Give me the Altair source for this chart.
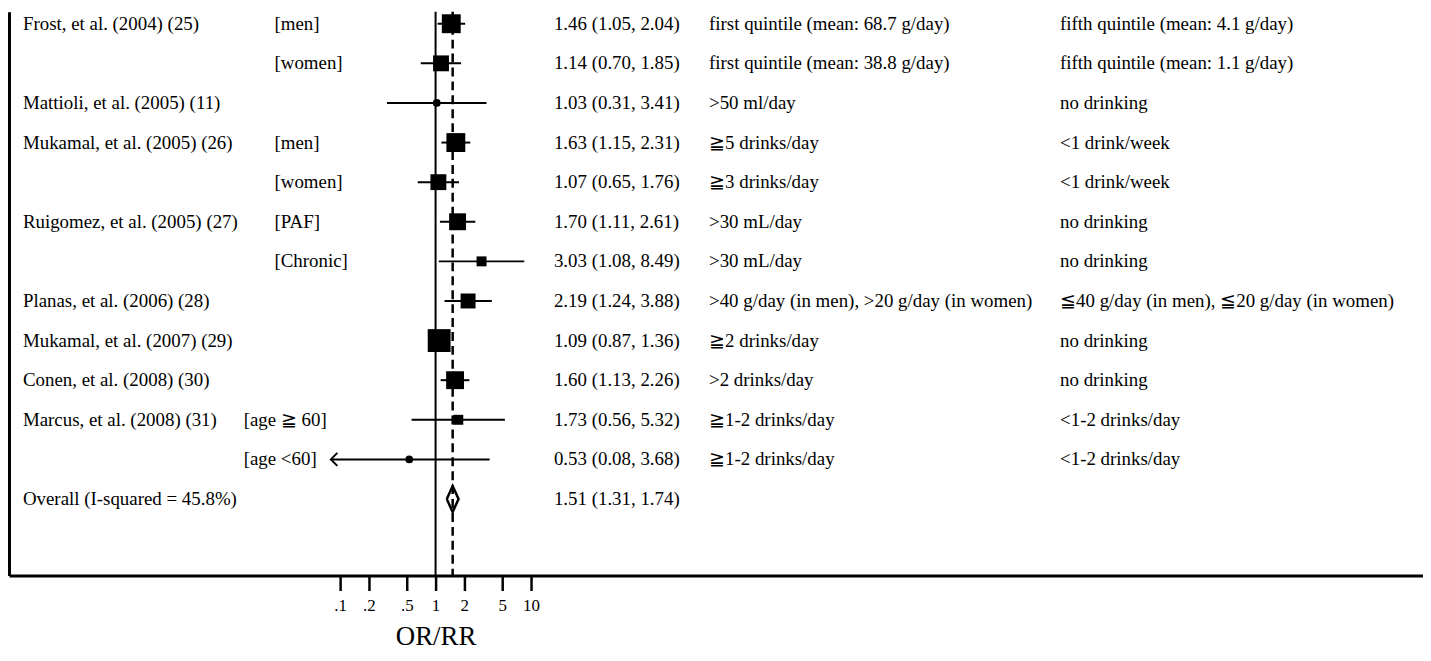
import altair as alt
import pandas as pd
import numpy as np

# ---------------- data ----------------
studies = [
    "Frost, et al. (2004) (25)", "", "Mattioli, et al. (2005) (11)",
    "Mukamal, et al. (2005) (26)", "", "Ruigomez, et al. (2005) (27)", "",
    "Planas, et al. (2006)  (28)", "Mukamal, et al. (2007)  (29)",
    "Conen, et al. (2008)  (30)", "Marcus, et al. (2008) (31)", "",
]
subgroups = ["[men]", "[women]", "", "[men]", "[women]", "[PAF]", "[Chronic]",
             "", "", "", "[age ≧ 60]", "[age <60]"]
estimates = [1.46, 1.14, 1.03, 1.63, 1.07, 1.70, 3.03, 2.19, 1.09, 1.60, 1.73, 0.53]
lower = [1.05, 0.70, 0.31, 1.15, 0.65, 1.11, 1.08, 1.24, 0.87, 1.13, 0.56, 0.08]
upper = [2.04, 1.85, 3.41, 2.31, 1.76, 2.61, 8.49, 3.88, 1.36, 2.26, 5.32, 3.68]
weights = [12.6, 8.9, 1.3, 12.6, 8.9, 10.1, 3.5, 7.9, 18.5, 11.3, 3.5, 0.9]
exposures = [
    "first quintile (mean: 68.7 g/day)", "first quintile (mean: 38.8 g/day)",
    ">50 ml/day", "≧5 drinks/day", "≧3 drinks/day", ">30 mL/day", ">30 mL/day",
    ">40 g/day (in men), >20 g/day (in women)", "≧2 drinks/day", ">2 drinks/day",
    "≧1-2 drinks/day", "≧1-2 drinks/day",
]
references = [
    "fifth quintile (mean: 4.1 g/day)", "fifth quintile (mean: 1.1 g/day)",
    "no drinking", "<1 drink/week", "<1 drink/week", "no drinking", "no drinking",
    "≦40 g/day (in men), ≦20 g/day (in women)", "no drinking", "no drinking",
    "<1-2 drinks/day", "<1-2 drinks/day",
]
overall_label = "Overall  (I-squared = 45.8%)"
overall_est, overall_lo, overall_hi = 1.51, 1.31, 1.74
tick_values = [0.1, 0.2, 0.5, 1, 2, 5, 10]
axis_title = "OR/RR"

# ---------------- layout ----------------
FONT = "Liberation Serif"
FS = 19
PLOT_W = 1422
PLOT_H = 567
ROW_PX = 39.83
FIRST_ROW_PX = 12
X_ONE_PX = 429
PX_PER_DECADE = 96

n = len(estimates)
overall_row = n

xs = alt.Scale(type="log", domain=[10 ** (-X_ONE_PX / PX_PER_DECADE),
                                   10 ** ((PLOT_W - X_ONE_PX) / PX_PER_DECADE)],
               nice=False, zero=False)
d0 = -FIRST_ROW_PX / ROW_PX
ys = alt.Scale(domain=[d0, d0 + PLOT_H / ROW_PX], reverse=True, nice=False, zero=False)

xa = alt.Axis(values=tick_values,
              labelExpr="datum.value < 1 ? '.' + format(datum.value * 10, 'd') : format(datum.value, 'd')",
              grid=False, domain=True, domainColor="black", domainWidth=3,
              ticks=True, tickColor="black", tickWidth=2.5, tickSize=15,
              labelFont=FONT, labelFontSize=17, labelColor="black", labelPadding=7,
              labelFlush=False, labelOverlap=False, labelBound=False,
              title=axis_title, titleFont=FONT, titleFontSize=27, titleFontWeight="normal",
              titleColor="black", titleX=X_ONE_PX, titleY=61, titleAlign="center",
              titleBaseline="middle")
ya = alt.Axis(domain=True, domainColor="black", domainWidth=3, ticks=False,
              labels=False, grid=False, title=None)

studies_df = pd.DataFrame({
    "row": np.arange(n), "est": estimates, "lo": lower, "hi": upper, "w": weights,
})
text_df = pd.DataFrame({
    "row": np.arange(n + 1),
    "study": studies + [overall_label],
    "sub": subgroups + [""],
    "esttext": [f"{e:.2f} ({l:.2f}, {h:.2f})" for e, l, h in zip(estimates, lower, upper)]
               + [f"{overall_est:.2f} ({overall_lo:.2f}, {overall_hi:.2f})"],
    "expo": exposures + [""],
    "ref": references + [""],
})
text_df["agesub"] = text_df["sub"].str.startswith("[age")

X = lambda f: alt.X(f, scale=xs, axis=xa, title=axis_title)
Y = lambda f: alt.Y(f, scale=ys, axis=ya)

one_line = alt.Chart(pd.DataFrame({"x": [1.0]})).mark_rule(
    color="black", strokeWidth=2).encode(x=X("x:Q"))
overall_line = alt.Chart(pd.DataFrame({"x": [overall_est]})).mark_rule(
    color="black", strokeWidth=2.5, strokeDash=[9, 5]).encode(x=X("x:Q"))

ci = alt.Chart(studies_df).mark_rule(color="black", strokeWidth=2).encode(
    x=X("lo:Q"), x2="hi:Q", y=Y("row:Q"))
boxes = alt.Chart(studies_df).mark_point(
    shape="square", filled=True, color="black", opacity=1).encode(
    x=X("est:Q"), y=Y("row:Q"),
    size=alt.Size("w:Q", scale=alt.Scale(type="linear", domain=[0, 100], range=[0, 2862]),
                  legend=None))
dots = alt.Chart(studies_df).mark_circle(color="black", opacity=1, size=60).encode(
    x=X("est:Q"), y=Y("row:Q"))
arrows = alt.Chart(studies_df).transform_filter(
    f"datum.lo < {min(tick_values)}").mark_point(
    shape="M1,-1L0,0L1,1", filled=False, color="black", strokeWidth=2, size=170,
    opacity=1).encode(x=X("lo:Q"), y=Y("row:Q"))

diamond_df = pd.DataFrame({
    "x": [overall_lo, overall_est, overall_hi, overall_est, overall_lo],
    "y": [overall_row, overall_row - 0.33, overall_row, overall_row + 0.33, overall_row],
    "order": [0, 1, 2, 3, 4],
})
diamond = alt.Chart(diamond_df).mark_line(color="black", strokeWidth=2.5).encode(
    x=X("x:Q"), y=Y("y:Q"), order="order:Q")

def col(field, xpos, data=text_df):
    return alt.Chart(data).mark_text(
        align="left", baseline="middle", font=FONT, fontSize=FS, color="black").encode(
        x=alt.value(xpos), y=Y("row:Q"), text=f"{field}:N")

t_study = col("study", 14)
t_sub = col("sub", 267, text_df[~text_df["agesub"]])
t_sub_age = col("sub", 236, text_df[text_df["agesub"]])
t_est = col("esttext", 548)
t_expo = col("expo", 704)
t_ref = col("ref", 1057)

chart = alt.layer(
    one_line, overall_line, ci, boxes, dots, arrows, diamond,
    t_study, t_sub, t_sub_age, t_est, t_expo, t_ref,
).properties(
    width=PLOT_W, height=PLOT_H,
    autosize=alt.AutoSizeParams(type="none"),
    padding={"left": 1, "top": 2, "right": 0, "bottom": 76},
).configure_view(stroke=None)

chart.save("out.html", embed_options={"renderer": "svg", "actions": False})
